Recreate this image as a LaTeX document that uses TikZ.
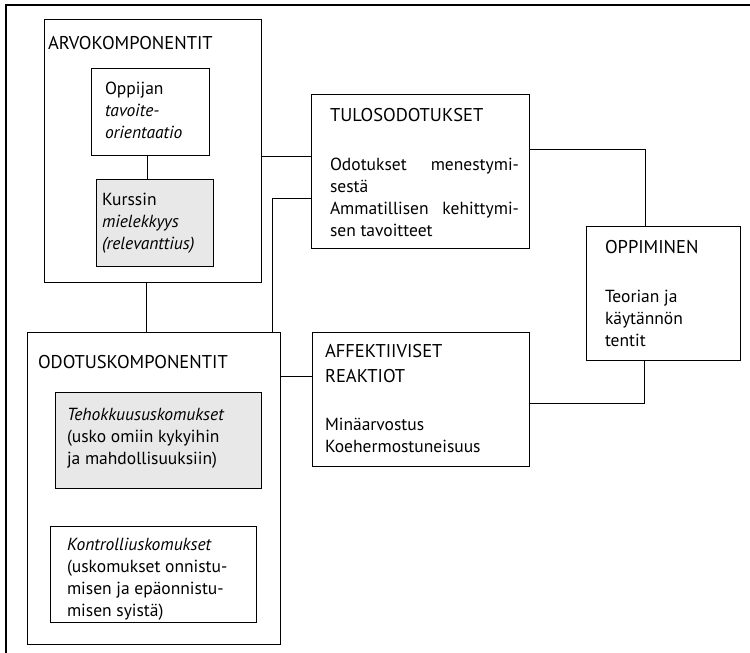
\documentclass[tikz,border=0pt]{standalone}
\usepackage{fontspec}
\setmainfont{PT Sans}
\usetikzlibrary{fit}
\definecolor{boxgray}{RGB}{232,232,232}
\tikzset{
  box/.style={draw=black, line width=0.9bp, inner sep=0pt, outer sep=0pt},
  shaded/.style={box, fill=boxgray},
  txt/.style={anchor=base west, inner sep=0pt, outer sep=0pt,
    font=\fontsize{17.5bp}{22bp}\selectfont},
  head/.style={txt, font=\fontsize{18.5bp}{25bp}\selectfont},
  wire/.style={line width=0.9bp}
}
\newcommand{\blk}[2]{\parbox[t]{#1}{\raggedright #2}}
\begin{document}
\begin{tikzpicture}[x=1bp, y=-1bp]
\useasboundingbox (0,0) rectangle (750,653);
% outer frame (top and left edges only)
\draw[line width=1.3bp] (750,5) -- (6,5) -- (6,653);

% value components
\node[box, fit={(44,19) (261,282)}] (arvo) {};
\node[box, fit={(91,68) (209,155)}] (opp) {};
\node[shaded, fit={(96,179) (213,266)}] (kur) {};
\node[head] (arvoT) at (48,50) {ARVOKOMPONENTIT};
\node[txt] (oppT) at (105,95) {\blk{100bp}{Oppijan\\ \textit{tavoite-}\\ \textit{orientaatio}}};
\node[txt] (kurT) at (102,205) {\blk{110bp}{Kurssin\\ \textit{mielekkyys}\\ \textit{(relevanttius)}}};

% outcome expectations
\node[box, fit={(311,94) (529,248)}] (tulos) {};
\node[head] (tulosT) at (330,122) {TULOSODOTUKSET};
\node[txt] (tulosB) at (330,170) {\blk{190bp}{%
  \makebox[189bp][l]{Odotukset\hfill menestymi-}\\
  sestä\\
  \makebox[189bp][l]{Ammatillisen\hfill kehittymi-}\\
  sen tavoitteet}};

% learning
\node[box, fit={(586,226) (740,360)}] (oppim) {};
\node[head] (oppimT) at (605,253) {OPPIMINEN};
\node[txt] (oppimB) at (605,302) {\blk{130bp}{Teorian ja\\ käytännön\\ tentit}};

% affective reactions
\node[box, fit={(312,332) (529,466)}] (aff) {};
\node[head] (affT) at (325,357) {\blk{200bp}{AFFEKTIIVISET\\ REAKTIOT}};
\node[txt] (affB) at (325,430) {\blk{200bp}{Minäarvostus\\ Koehermostuneisuus}};

% expectancy components
\node[box, fit={(27,332) (280,644)}] (odot) {};
\node[shaded, fit={(55,392) (261,488)}] (teho) {};
\node[box, fit={(50,526) (256,622)}] (kontr) {};
\node[head] (odotT) at (38,368) {ODOTUSKOMPONENTIT};
\node[txt] (tehoT) at (67,420) {\blk{190bp}{\textit{Tehokkuususkomukset}\\ (usko omiin kykyihin\\ ja mahdollisuuksiin)}};
\node[txt] (kontrT) at (67,550) {\blk{185bp}{\textit{Kontrolliuskomukset}\\ (uskomukset onnistu-\\ misen ja epäonnistu-\\ misen syistä)}};

% connector routing points
\coordinate (c1) at (147,0);
\coordinate (c2) at (146,0);
\coordinate (c3) at (0,156);
\coordinate (c4) at (272,198);
\coordinate (c5) at (645,149);
\coordinate (c6) at (0,376);
\coordinate (c7) at (644,403);

% connectors
\draw[wire] (opp.south -| c1) -- (kur.north -| c1);
\draw[wire] (arvo.south -| c2) -- (odot.north -| c2);
\draw[wire] (arvo.east |- c3) -- (tulos.west |- c3);
\draw[wire] (tulos.west |- c4) -- (c4) -- (odot.north -| c4);
\draw[wire] (tulos.east |- c5) -- (c5) -- (oppim.north -| c5);
\draw[wire] (odot.east |- c6) -- (aff.west |- c6);
\draw[wire] (aff.east |- c7) -- (c7) -- (oppim.south -| c7);
\end{tikzpicture}
\end{document}
